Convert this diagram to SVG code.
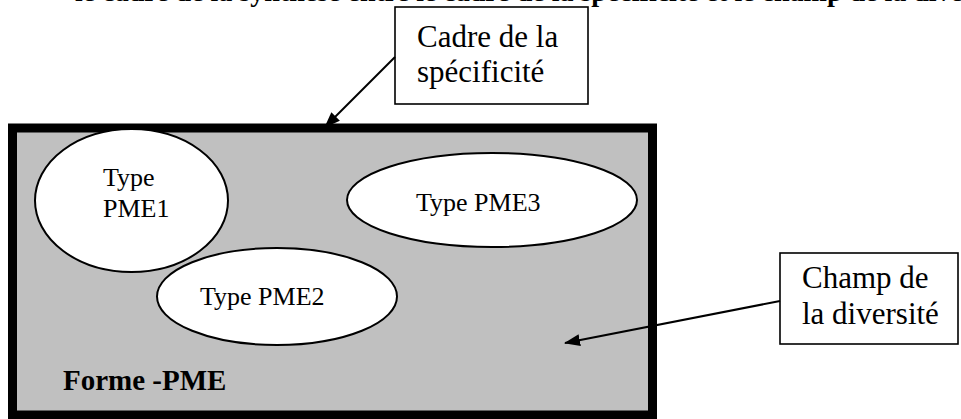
<svg xmlns="http://www.w3.org/2000/svg" width="961" height="419" viewBox="0 0 961 419">
<style>
text{font-family:"Liberation Serif","Times New Roman",serif;fill:#000}
.t26{font-size:26px}
.t31{font-size:31px}
.bold{font-weight:bold}
.ell{fill:#fff;stroke:#000;stroke-width:2}
.box{fill:#fff;stroke:#000;stroke-width:1.6}
.conn{stroke:#000;stroke-width:2;fill:none}
</style>
<defs>
<marker id="ah" markerWidth="16" markerHeight="12" refX="15" refY="6" orient="auto" markerUnits="userSpaceOnUse">
<path d="M0,0 L16,6 L0,12 Z" fill="#000"/>
</marker>
</defs>
<rect width="961" height="419" fill="#fff"/>
<text id="header" class="bold" x="75" y="1" style="font-size:28px">le cadre de la synthèse entre le cadre de la spécificité et le champ de la diversité</text>
<g id="forme-pme">
<rect x="12.5" y="128" width="640" height="287" fill="#c0c0c0" stroke="#000" stroke-width="9"/>
<text class="bold" x="63" y="390" style="font-size:29px">Forme -PME</text>
</g>
<g id="pme1">
<ellipse class="ell" cx="131.5" cy="200.5" rx="96.5" ry="71.5"/>
<text class="t26" x="103" y="186">Type</text>
<text class="t26" x="103" y="217">PME1</text>
</g>
<g id="pme3">
<ellipse class="ell" cx="492" cy="200" rx="145" ry="47"/>
<text class="t26" x="416" y="211">Type PME3</text>
</g>
<g id="pme2">
<ellipse class="ell" cx="277" cy="296.5" rx="120" ry="48.5"/>
<text class="t26" x="200" y="305">Type PME2</text>
</g>
<g id="cadre">
<rect class="box" x="395" y="7" width="193" height="97"/>
<text class="t31" x="417" y="47">Cadre de la</text>
<text class="t31" x="417" y="82">spécificité</text>
</g>
<g id="champ">
<rect class="box" x="780" y="253" width="178" height="91"/>
<text class="t31" x="802" y="288">Champ de</text>
<text class="t31" x="802" y="324">la diversité</text>
</g>
<g id="connectors">
<line class="conn" x1="395" y1="57" x2="325" y2="127" marker-end="url(#ah)"/>
<line class="conn" x1="780" y1="301" x2="565" y2="343" marker-end="url(#ah)"/>
</g>
</svg>
